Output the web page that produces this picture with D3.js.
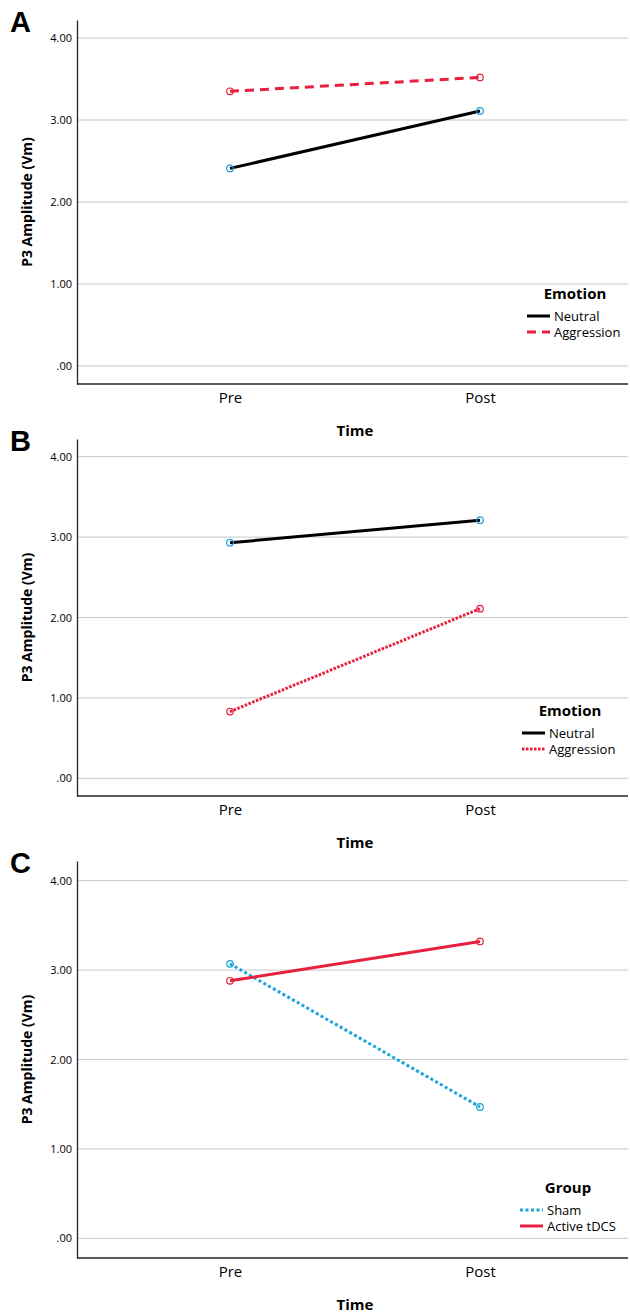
<!DOCTYPE html>
<html lang="en">
<head>
<meta charset="UTF-8">
<title>P3 Amplitude</title>
<script src="https://d3js.org/d3.v7.min.js"></script>
<style>
    body { margin: 0; background: #fff; }
    svg text { font-family: "Open Sans", "DejaVu Sans", sans-serif; fill: #000; }
    .grid line { stroke: #c8c8c8; stroke-width: 1; }
</style>
</head>
<body>
<svg id="chart" width="630" height="1314"></svg>
<script>
// categories and tick labels
const times = ["Pre", "Post"];
const yTicks = [0, 1, 2, 3, 4];

// panel A
const aNeutral = [2.41, 3.11];
const aAggression = [3.35, 3.52];
// panel B
const bNeutral = [2.93, 3.21];
const bAggression = [0.83, 2.11];
// panel C
const cSham = [3.07, 1.47];
const cActive = [2.88, 3.32];

const RED = "#e8203f", BLUE = "#1ba3dd";

const panels = [
    {
        letter: "A", top: 20, bottom: 384, legendTitle: "Emotion", legendX: 527, legendY: 294,
        series: [
            { name: "Neutral", values: aNeutral, color: "#000", dash: null, marker: BLUE },
            { name: "Aggression", values: aAggression, color: RED, dash: "9,6", marker: RED }
        ]
    },
    {
        letter: "B", top: 439, bottom: 796, legendTitle: "Emotion", legendX: 522, legendY: 711,
        series: [
            { name: "Neutral", values: bNeutral, color: "#000", dash: null, marker: BLUE },
            { name: "Aggression", values: bAggression, color: RED, dash: "2.5,1.5", marker: RED }
        ]
    },
    {
        letter: "C", top: 861, bottom: 1258, legendTitle: "Group", legendX: 520, legendY: 1188,
        series: [
            { name: "Sham", values: cSham, color: BLUE, dash: "3,2.5", marker: BLUE },
            { name: "Active tDCS", values: cActive, color: RED, dash: null, marker: RED }
        ]
    }
];

const svg = d3.select("#chart");
const left = 77, right = 628;

panels.forEach(p => {
    const g = svg.append("g");

    const x = d3.scalePoint().domain(times).range([80, 630]).padding(0.6);
    const y = d3.scaleLinear().domain([-0.22, 4.22]).range([p.bottom, p.top]);

    // gridlines
    g.append("g").attr("class", "grid")
        .selectAll("line").data(yTicks).enter().append("line")
        .attr("x1", left).attr("x2", right)
        .attr("y1", d => y(d)).attr("y2", d => y(d));

    // y axis
    const yAxis = g.append("g")
        .attr("transform", `translate(${left},0)`)
        .call(d3.axisLeft(y).tickValues(yTicks).tickSize(0).tickPadding(5)
            .tickFormat(d => d === 0 ? ".00" : d3.format(".2f")(d)));
    yAxis.select(".domain").attr("stroke", "#222").attr("stroke-width", 1.3);
    yAxis.selectAll("text").style("font-size", "11px");

    // x axis (domain line spans the full frame width)
    const xAxis = g.append("g")
        .attr("transform", `translate(0,${p.bottom})`)
        .call(d3.axisBottom(x).tickSize(0).tickPadding(8));
    xAxis.select(".domain").attr("d", `M${left},0H${right}`)
        .attr("stroke", "#222").attr("stroke-width", 1.3);
    xAxis.selectAll("text").style("font-size", "15px");

    // axis titles
    g.append("text")
        .attr("x", (x("Pre") + x("Post")) / 2).attr("y", p.bottom + 52)
        .attr("text-anchor", "middle")
        .style("font-size", "15px").style("font-weight", "bold")
        .text("Time");
    g.append("text")
        .attr("transform", `translate(32,${(p.top + p.bottom) / 2}) rotate(-90)`)
        .attr("text-anchor", "middle")
        .style("font-size", "14px").style("font-weight", "bold")
        .text("P3 Amplitude (Vm)");

    // panel letter
    g.append("text")
        .attr("x", 10).attr("y", p.top + 12)
        .style("font-family", "'Liberation Sans', Arial, sans-serif")
        .style("font-size", "29px").style("font-weight", "bold")
        .text(p.letter);

    // lines and markers
    const line = d3.line().x((d, i) => x(times[i])).y(d => y(d));
    p.series.forEach(s => {
        g.append("path")
            .datum(s.values)
            .attr("d", line)
            .attr("fill", "none")
            .attr("stroke", s.color)
            .attr("stroke-width", 3)
            .attr("stroke-dasharray", s.dash);
    });
    p.series.forEach(s => {
        g.selectAll(null).data(s.values).enter().append("circle")
            .attr("cx", (d, i) => x(times[i]))
            .attr("cy", d => y(d))
            .attr("r", 3.3)
            .attr("fill", "none")
            .attr("stroke", s.marker)
            .attr("stroke-width", 1.2);
    });

    // legend
    const lg = g.append("g").attr("transform", `translate(${p.legendX},${p.legendY})`);
    lg.append("text")
        .attr("x", 48).attr("y", 5)
        .attr("text-anchor", "middle")
        .style("font-size", "15px").style("font-weight", "bold")
        .text(p.legendTitle);
    p.series.forEach((s, i) => {
        const yy = 22 + i * 16;
        lg.append("line")
            .attr("x1", 0).attr("x2", 23)
            .attr("y1", yy).attr("y2", yy)
            .attr("stroke", s.color).attr("stroke-width", 3)
            .attr("stroke-dasharray", s.dash);
        lg.append("text")
            .attr("x", 27).attr("y", yy + 4.5)
            .style("font-size", "13px")
            .text(s.name);
    });
});
</script>
</body>
</html>
